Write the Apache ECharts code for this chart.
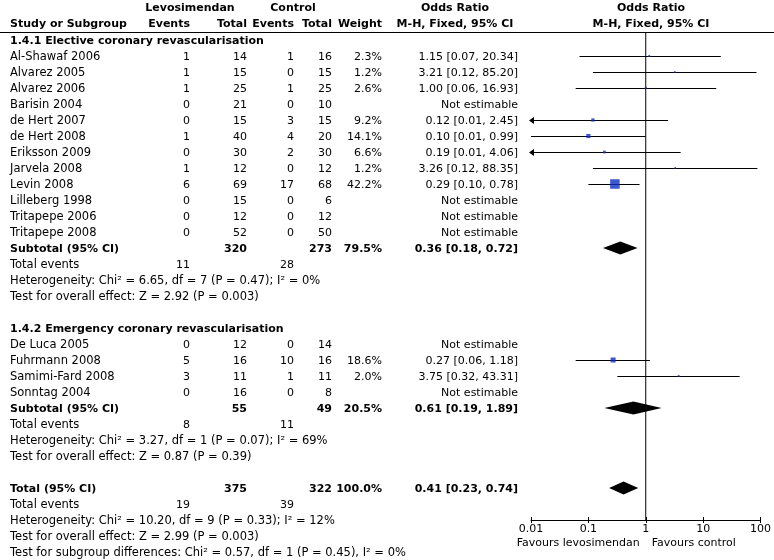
<!DOCTYPE html>
<html><head><meta charset="utf-8">
<script src="https://cdn.jsdelivr.net/npm/echarts@6/dist/echarts.min.js"></script>
<style>html,body{margin:0;padding:0;background:#fff}#c{width:774px;height:560px}</style>
</head><body><div id="c"></div>
<script>
// ---------- DATA ----------
const g1Title = '1.4.1 Elective coronary revascularisation';
const g1Studies = ['Al-Shawaf 2006','Alvarez 2005','Alvarez 2006','Barisin 2004','de Hert 2007','de Hert 2008','Eriksson 2009','Jarvela 2008','Levin 2008','Lilleberg 1998','Tritapepe 2006','Tritapepe 2008'];
const g1LevoEvents = [1,1,1,0,0,1,0,1,6,0,0,0];
const g1LevoTotal  = [14,15,25,21,15,40,30,12,69,15,12,52];
const g1CtrlEvents = [1,0,1,0,3,4,2,0,17,0,0,0];
const g1CtrlTotal  = [16,15,25,10,15,20,30,12,68,6,12,50];
const g1Weight = [2.3,1.2,2.6,null,9.2,14.1,6.6,1.2,42.2,null,null,null];
const g1OR = [1.15,3.21,1.00,null,0.12,0.10,0.19,3.26,0.29,null,null,null];
const g1Lo = [0.07,0.12,0.06,null,0.01,0.01,0.01,0.12,0.10,null,null,null];
const g1Hi = [20.34,85.20,16.93,null,2.45,0.99,4.06,88.35,0.78,null,null,null];
const g1ArrowLeft = [0,0,0,0,1,0,1,0,0,0,0,0];
const g1Sub = {levoTotal:320, ctrlTotal:273, weight:79.5, or:0.36, lo:0.18, hi:0.72};
const g1Events = [11, 28];
const g1Het = 'Heterogeneity: Chi² = 6.65, df = 7 (P = 0.47); I² = 0%';
const g1Test = 'Test for overall effect: Z = 2.92 (P = 0.003)';

const g2Title = '1.4.2 Emergency coronary revascularisation';
const g2Studies = ['De Luca 2005','Fuhrmann 2008','Samimi-Fard 2008','Sonntag 2004'];
const g2LevoEvents = [0,5,3,0];
const g2LevoTotal  = [12,16,11,16];
const g2CtrlEvents = [0,10,1,0];
const g2CtrlTotal  = [14,16,11,8];
const g2Weight = [null,18.6,2.0,null];
const g2OR = [null,0.27,3.75,null];
const g2Lo = [null,0.06,0.32,null];
const g2Hi = [null,1.18,43.31,null];
const g2ArrowLeft = [0,0,0,0];
const g2Sub = {levoTotal:55, ctrlTotal:49, weight:20.5, or:0.61, lo:0.19, hi:1.89};
const g2Events = [8, 11];
const g2Het = 'Heterogeneity: Chi² = 3.27, df = 1 (P = 0.07); I² = 69%';
const g2Test = 'Test for overall effect: Z = 0.87 (P = 0.39)';

const totSub = {levoTotal:375, ctrlTotal:322, weight:100.0, or:0.41, lo:0.23, hi:0.74};
const totEvents = [19, 39];
const totHet = 'Heterogeneity: Chi² = 10.20, df = 9 (P = 0.33); I² = 12%';
const totTest = 'Test for overall effect: Z = 2.99 (P = 0.003)';
const subgroupTest = 'Test for subgroup differences: Chi² = 0.57, df = 1 (P = 0.45), I² = 0%';

const tickValues = [0.01, 0.1, 1, 10, 100];
const tickLabels = ['0.01', '0.1', '1', '10', '100'];
const favoursLeft = 'Favours levosimendan';
const favoursRight = 'Favours control';

// ---------- LAYOUT ----------
const ROW0 = 56, ROWH = 16, AXIS_Y = 520, TOP_Y = 32;
const yMin = (TOP_Y - ROW0) / ROWH, yMax = (AXIS_Y - ROW0) / ROWH;
const COL = {name:10, le:190, lt:247, ce:294, ct:332, w:382, or:518};
const FONT = '11.5px "DejaVu Sans"', NFONT = '11px "DejaVu Sans"', BFONT = 'bold 11px "DejaVu Sans"';
const BLUE = '#0e2ec2';

const textRows = [];
const ciData = [], sqData = [], diaData = [];
const fmt = (o,l,h) => `${o.toFixed(2)} [${l.toFixed(2)}, ${h.toFixed(2)}]`;

function addGroup(r, title, st, le, lt, ce, ct, w, or, lo, hi, arr, sub, ev, het, test) {
  textRows.push({r, cells:[{t:title, x:COL.name, align:'left', f:BFONT}]});
  r++;
  for (let i = 0; i < st.length; i++, r++) {
    const est = or[i] != null;
    textRows.push({r, cells:[
      {t:st[i], x:COL.name, align:'left', f:FONT},
      {t:String(le[i]), x:COL.le, align:'right', f:NFONT},
      {t:String(lt[i]), x:COL.lt, align:'right', f:NFONT},
      {t:String(ce[i]), x:COL.ce, align:'right', f:NFONT},
      {t:String(ct[i]), x:COL.ct, align:'right', f:NFONT},
      {t: est ? w[i].toFixed(1) + '%' : '', x:COL.w, align:'right', f:NFONT},
      {t: est ? fmt(or[i], lo[i], hi[i]) : 'Not estimable', x:COL.or, align:'right', f:NFONT}
    ]});
    if (est) {
      ciData.push([r, lo[i], hi[i], arr[i]]);
      sqData.push([or[i], r, w[i]]);
    }
  }
  r = addSub(r, 'Subtotal (95% CI)', sub);
  r = addFoot(r, ev, het, test);
  return r;
}
function addSub(r, label, sub) {
  textRows.push({r, cells:[
    {t:label, x:COL.name, align:'left', f:BFONT},
    {t:String(sub.levoTotal), x:COL.lt, align:'right', f:BFONT},
    {t:String(sub.ctrlTotal), x:COL.ct, align:'right', f:BFONT},
    {t:sub.weight.toFixed(1) + '%', x:COL.w, align:'right', f:BFONT},
    {t:fmt(sub.or, sub.lo, sub.hi), x:COL.or, align:'right', f:BFONT}
  ]});
  diaData.push([r, sub.lo, sub.or, sub.hi]);
  return r + 1;
}
function addFoot(r, ev, het, test) {
  textRows.push({r, cells:[
    {t:'Total events', x:COL.name, align:'left', f:FONT},
    {t:String(ev[0]), x:COL.le, align:'right', f:NFONT},
    {t:String(ev[1]), x:COL.ce, align:'right', f:NFONT}
  ]});
  textRows.push({r:r+1, cells:[{t:het, x:COL.name, align:'left', f:FONT}]});
  textRows.push({r:r+2, cells:[{t:test, x:COL.name, align:'left', f:FONT}]});
  return r + 3;
}

let r = -1;
r = addGroup(r, g1Title, g1Studies, g1LevoEvents, g1LevoTotal, g1CtrlEvents, g1CtrlTotal, g1Weight, g1OR, g1Lo, g1Hi, g1ArrowLeft, g1Sub, g1Events, g1Het, g1Test);
r += 1;
r = addGroup(r, g2Title, g2Studies, g2LevoEvents, g2LevoTotal, g2CtrlEvents, g2CtrlTotal, g2Weight, g2OR, g2Lo, g2Hi, g2ArrowLeft, g2Sub, g2Events, g2Het, g2Test);
r += 1;
r = addSub(r, 'Total (95% CI)', totSub);
r = addFoot(r, totEvents, totHet, totTest);
textRows.push({r, cells:[{t:subgroupTest, x:COL.name, align:'left', f:FONT}]});

// ---------- CHART ----------
const chart = echarts.init(document.getElementById('c'), null, {renderer:'canvas', width:774, height:560});

const xBase = {
  type:'log', logBase:10, min:0.01, max:100, gridIndex:0, position:'bottom',
  splitLine:{show:false}, minorTick:{show:false}
};
chart.setOption({
  animation:false,
  backgroundColor:'#fff',
  grid:{left:531, width:232.5, top:TOP_Y, height:AXIS_Y - TOP_Y, containLabel:false},
  xAxis:[
    Object.assign({}, xBase, {
      axisLine:{show:true, onZero:false, lineStyle:{color:'#000', width:1}},
      axisTick:{show:true, length:3, lineStyle:{color:'#000'}},
      axisLabel:{show:true, margin:4, color:'#000', fontSize:11, fontFamily:'DejaVu Sans',
        formatter: v => { const i = tickValues.findIndex(t => Math.abs(Math.log10(t) - Math.log10(v)) < 1e-6); return i >= 0 ? tickLabels[i] : ''; }}
    }),
    Object.assign({}, xBase, {
      axisLine:{show:false, onZero:false},
      axisTick:{show:true, inside:true, length:3, lineStyle:{color:'#000'}},
      axisLabel:{show:false}
    })
  ],
  yAxis:{type:'value', inverse:true, min:yMin, max:yMax, show:false},
  series:[
    { type:'line', data:[[1, yMin], [1, yMax]], symbol:'none', silent:true,
      lineStyle:{color:'#000', width:1}, z:1 },
    { type:'custom', data:ciData, encode:{x:[1,2], y:0}, z:2, silent:true,
      renderItem:(params, api) => {
        const row = api.value(0), lo = api.value(1), hi = api.value(2), arrow = api.value(3);
        const p1 = api.coord([lo, row]), p2 = api.coord([hi, row]);
        const y = Math.round(p1[1]) + 0.5;
        const x1 = arrow ? p1[0] - 1 : p1[0];
        const ch = [{type:'line', shape:{x1:x1, y1:y, x2:p2[0], y2:y}, style:{stroke:'#000', lineWidth:1}}];
        if (arrow) ch.push({type:'polygon', shape:{points:[[x1 - 1, y], [x1 + 4, y - 3.5], [x1 + 4, y + 3.5]]}, style:{fill:'#000'}});
        return {type:'group', children:ch};
      }
    },
    { type:'scatter', data:sqData, symbol:'rect', z:3, silent:true,
      symbolSize: v => 1.5 + 0.19 * v[2],
      itemStyle:{color:BLUE} },
    { type:'custom', data:diaData, encode:{x:[1,2,3], y:0}, z:3, silent:true,
      renderItem:(params, api) => {
        const row = api.value(0);
        const a = api.coord([api.value(1), row]), m = api.coord([api.value(2), row]), b = api.coord([api.value(3), row]);
        const h = 6.5;
        return {type:'polygon', shape:{points:[[a[0], a[1]], [m[0], a[1] - h], [b[0], a[1]], [m[0], a[1] + h]]}, style:{fill:'#000'}};
      }
    }
  ]
});

// ---------- TABLE TEXT ----------
const g = [];
function txt(t, x, y, align, font) {
  g.push({type:'text', silent:true, style:{text:t, x:x, y:y, font:font, fill:'#000',
    align:align, verticalAlign:'middle', textAlign:align, textVerticalAlign:'middle'}});
}
const rowY = row => chart.convertToPixel({gridIndex:0}, [1, row])[1] + 1.5;
textRows.forEach(tr => tr.cells.forEach(c => { if (c.t !== '') txt(c.t, c.x, rowY(tr.r), c.align, c.f); }));
// headers
txt('Levosimendan', 190, 8, 'center', BFONT);
txt('Control', 293, 8, 'center', BFONT);
txt('Odds Ratio', 455, 8, 'center', BFONT);
txt('Odds Ratio', 651, 8, 'center', BFONT);
txt('Study or Subgroup', COL.name, 24, 'left', BFONT);
txt('Events', COL.le, 24, 'right', BFONT);
txt('Total', COL.lt, 24, 'right', BFONT);
txt('Events', COL.ce, 24, 'right', BFONT);
txt('Total', COL.ct, 24, 'right', BFONT);
txt('Weight', COL.w, 24, 'right', BFONT);
txt('M-H, Fixed, 95% CI', 455, 24, 'center', BFONT);
txt('M-H, Fixed, 95% CI', 651, 24, 'center', BFONT);
// favours labels
const oneX = chart.convertToPixel({gridIndex:0}, [1, 0])[0];
txt(favoursLeft, oneX - 6, 543, 'right', NFONT);
txt(favoursRight, oneX + 6, 543, 'left', NFONT);
// header rule
g.push({type:'line', silent:true, shape:{x1:0, y1:TOP_Y + 0.5, x2:774, y2:TOP_Y + 0.5}, style:{stroke:'#000', lineWidth:1}});
chart.setOption({graphic:{elements:g}});
</script></body></html>
